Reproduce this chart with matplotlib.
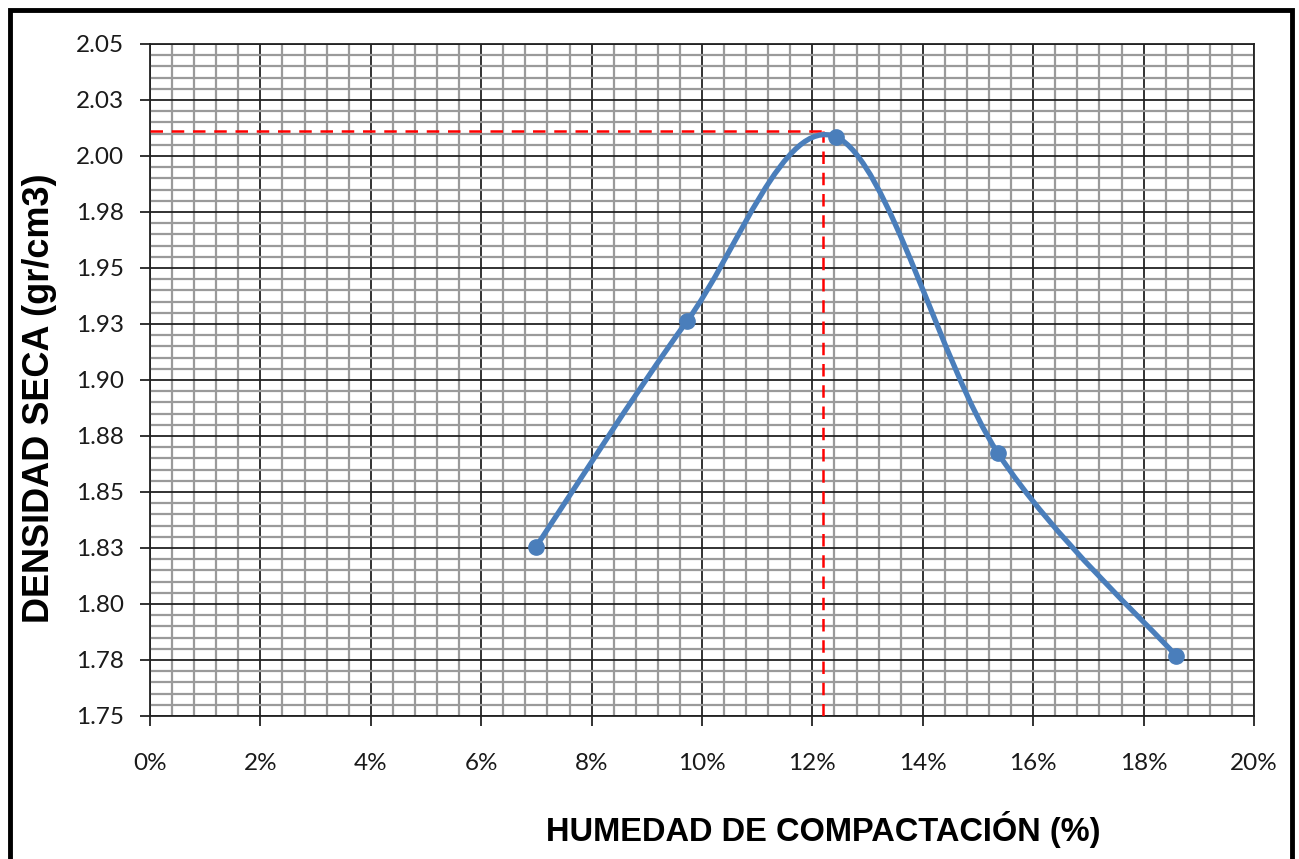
import matplotlib
matplotlib.use('Agg')
import matplotlib.pyplot as plt
from matplotlib.path import Path
from matplotlib.patches import PathPatch, Rectangle
from matplotlib.ticker import MultipleLocator, FuncFormatter

# datos del ensayo (humedad %, densidad seca gr/cm3)
humedad = [6.99, 9.73, 12.43, 15.36, 18.59]
densidad = [1.8254, 1.9263, 2.0085, 1.8674, 1.7768]

# optimo
hum_opt = 12.19
dens_max = 2.0112

fig = plt.figure(figsize=(12.99, 8.59), dpi=100)
ax = fig.add_axes([150/1299, 1 - 716/859, (1254-150)/1299, (716-44)/859])

# curva suavizada tipo Excel (bezier con puntos de control)
verts = [(humedad[0], densidad[0])]
codes = [Path.MOVETO]
n = len(humedad)
for i in range(n - 1):
    x0, y0 = humedad[max(i-1, 0)], densidad[max(i-1, 0)]
    x1, y1 = humedad[i], densidad[i]
    x2, y2 = humedad[i+1], densidad[i+1]
    x3, y3 = humedad[min(i+2, n-1)], densidad[min(i+2, n-1)]
    c1 = (x1 + (x2 - x0)/6, y1 + (y2 - y0)/6)
    c2 = (x2 - (x3 - x1)/6, y2 - (y3 - y1)/6)
    verts += [c1, c2, (x2, y2)]
    codes += [Path.CURVE4]*3
curva = PathPatch(Path(verts, codes), facecolor='none', edgecolor='#4a7ebb', lw=3.8, zorder=4, capstyle='round')
ax.add_patch(curva)
ax.plot(humedad, densidad, 'o', color='#4a7ebb', markersize=11, zorder=5)

# lineas del optimo
ax.plot([0, hum_opt], [dens_max, dens_max], color='red', lw=1.8, dashes=(5, 3.5), zorder=3)
ax.plot([hum_opt, hum_opt], [1.75, dens_max], color='red', lw=1.8, dashes=(5, 3.5), zorder=3)

ax.set_xlim(0, 20)
ax.set_ylim(1.75, 2.05)
ax.xaxis.set_major_locator(MultipleLocator(2))
ax.xaxis.set_minor_locator(MultipleLocator(0.4))
ax.yaxis.set_major_locator(MultipleLocator(0.025))
ax.yaxis.set_minor_locator(MultipleLocator(0.005))
ax.xaxis.set_major_formatter(FuncFormatter(lambda v, p: '%d%%' % round(v)))
ax.yaxis.set_major_formatter(FuncFormatter(lambda v, p: '%.2f' % v))

ax.grid(which='major', color='#222222', lw=1.3, zorder=1)
ax.grid(which='minor', color='#9a9a9a', lw=1.6, zorder=0)
ax.set_axisbelow(True)
for s in ax.spines.values():
    s.set_color('#222222')
    s.set_linewidth(1.3)
ax.tick_params(which='major', length=7, width=1.3, color='#222222', labelsize=17.5, labelcolor='#1a1a1a')
ax.tick_params(axis='x', pad=20)
ax.tick_params(axis='y', pad=12)
ax.tick_params(which='minor', length=0)
for lab in ax.get_xticklabels() + ax.get_yticklabels():
    lab.set_family(['Lato', 'DejaVu Sans'])

fig.text(823/1299, 1 - 829/859, 'HUMEDAD DE COMPACTACIÓN (%)', ha='center', va='center',
         fontsize=23.5, fontweight='bold', family=['Liberation Sans', 'DejaVu Sans'])
fig.text(40/1299, 1 - 398/859, 'DENSIDAD SECA (gr/cm3)', ha='center', va='center', rotation=90,
         fontsize=26, fontweight='bold', family=['Liberation Sans', 'DejaVu Sans'])

# marco exterior
fig.patches.append(Rectangle((10/1299, -0.05), 1282/1299, 1.05 - 10/859, transform=fig.transFigure,
                             fill=False, edgecolor='black', lw=3.5))

fig.savefig('out.png', dpi=100)
